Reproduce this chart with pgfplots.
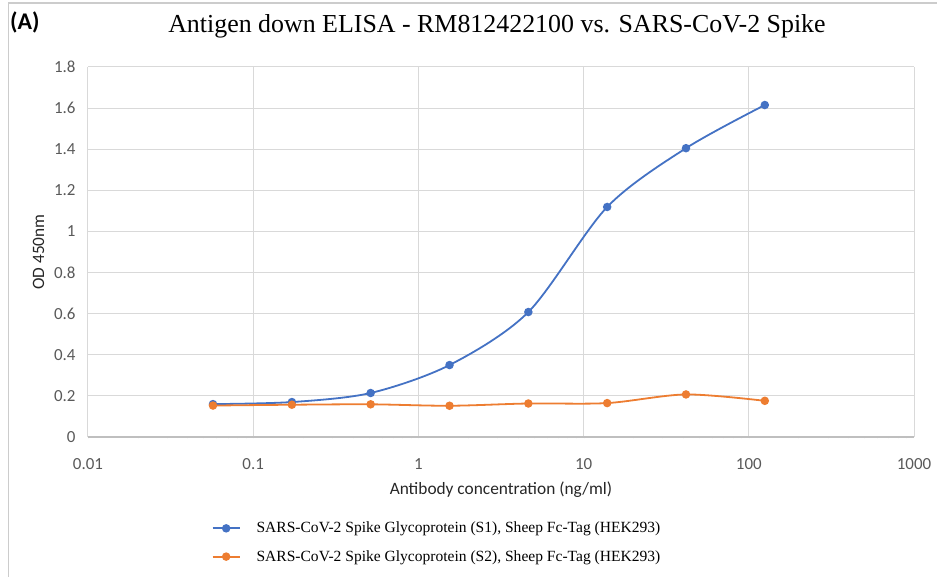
\documentclass[border=0pt]{standalone}
\usepackage{pgfplots}
\pgfplotsset{compat=1.18}
\usepackage{fontspec}
\setmainfont{Liberation Serif}
\newfontfamily\calibri{Carlito}

\definecolor{xlblue}{HTML}{4472C4}
\definecolor{xlorange}{HTML}{ED7D31}
\definecolor{gridgray}{HTML}{D9D9D9}
\definecolor{axgray}{HTML}{BFBFBF}
\definecolor{txtgray}{HTML}{595959}

\begin{document}
\begin{tikzpicture}
\useasboundingbox (0bp,0bp) rectangle (937bp,577bp);
% outer frame (left and top edges only visible)
\draw[gray!40, line width=1.5bp] (8.5bp,0bp) -- (8.5bp,574bp) -- (937bp,574bp);
\node[font=\calibri\bfseries\fontsize{24}{24}\selectfont, anchor=west, inner sep=0pt] at (10bp,555bp) {(A)};
\node[font=\fontsize{26}{26}\selectfont] at (497bp,551bp) {Antigen down ELISA - RM812422100 vs. SARS-CoV-2 Spike};

\begin{axis}[
    at={(88bp,140bp)}, anchor=south west,
    scale only axis, width=826bp, height=370bp,
    xmode=log,
    xmin=0.01, xmax=1000,
    ymin=0, ymax=1.8,
    xtick={0.01,0.1,1,10,100,1000},
    xticklabels={0.01,0.1,1,10,100,1000},
    ytick={0,0.2,0.4,0.6,0.8,1,1.2,1.4,1.6,1.8},
    yticklabels={0,0.2,0.4,0.6,0.8,1,1.2,1.4,1.6,1.8},
    major tick length=0pt,
    grid=major,
    grid style={gridgray, line width=1bp},
    axis x line=bottom,
    axis y line=left,
    x axis line style={axgray, line width=1.2bp, -},
    y axis line style={gridgray, line width=1bp, -},
    tick label style={font=\calibri\fontsize{17}{17}\selectfont, text=txtgray},
    xticklabel style={yshift=-18bp},
    yticklabel style={xshift=-9bp},
    xlabel={\calibri Antibody concentration (ng/ml)},
    ylabel={\calibri OD 450nm},
    label style={font=\calibri\fontsize{17.4}{17.4}\selectfont, text=black!85},
    xlabel style={yshift=-5bp},
    ylabel style={yshift=3bp},
    legend cell align=left,
    legend style={
        at={(0.146,-0.219)}, anchor=north west,
        draw=none, fill=none,
        font=\fontsize{15.6}{15.6}\selectfont,
        row sep=12bp,
        /tikz/every even column/.append style={column sep=6bp},
        /tikz/every odd column/.append style={column sep=14bp},
    },
    legend image code/.code={
        \draw[#1] (0bp,0bp) -- (27bp,0bp);
        \draw[#1, only marks] plot coordinates {(13.5bp,0bp)};
    },
]
\addplot[xlblue, line width=1.8bp, smooth, tension=0.5,
    mark=*, mark size=3.3bp, mark options={fill=xlblue, draw=xlblue}]
    coordinates {
    (0.0571,0.160)(0.1715,0.170)(0.514,0.214)(1.543,0.350)
    (4.63,0.608)(13.89,1.119)(41.67,1.405)(125,1.615)
    };
\addlegendentry{SARS-CoV-2 Spike Glycoprotein (S1), Sheep Fc-Tag (HEK293)}

\addplot[xlorange, line width=1.8bp, smooth, tension=0.5,
    mark=*, mark size=3.3bp, mark options={fill=xlorange, draw=xlorange}]
    coordinates {
    (0.0571,0.153)(0.1715,0.157)(0.514,0.159)(1.543,0.152)
    (4.63,0.163)(13.89,0.165)(41.67,0.207)(125,0.176)
    };
\addlegendentry{SARS-CoV-2 Spike Glycoprotein (S2), Sheep Fc-Tag (HEK293)}
\end{axis}
\end{tikzpicture}
\end{document}
